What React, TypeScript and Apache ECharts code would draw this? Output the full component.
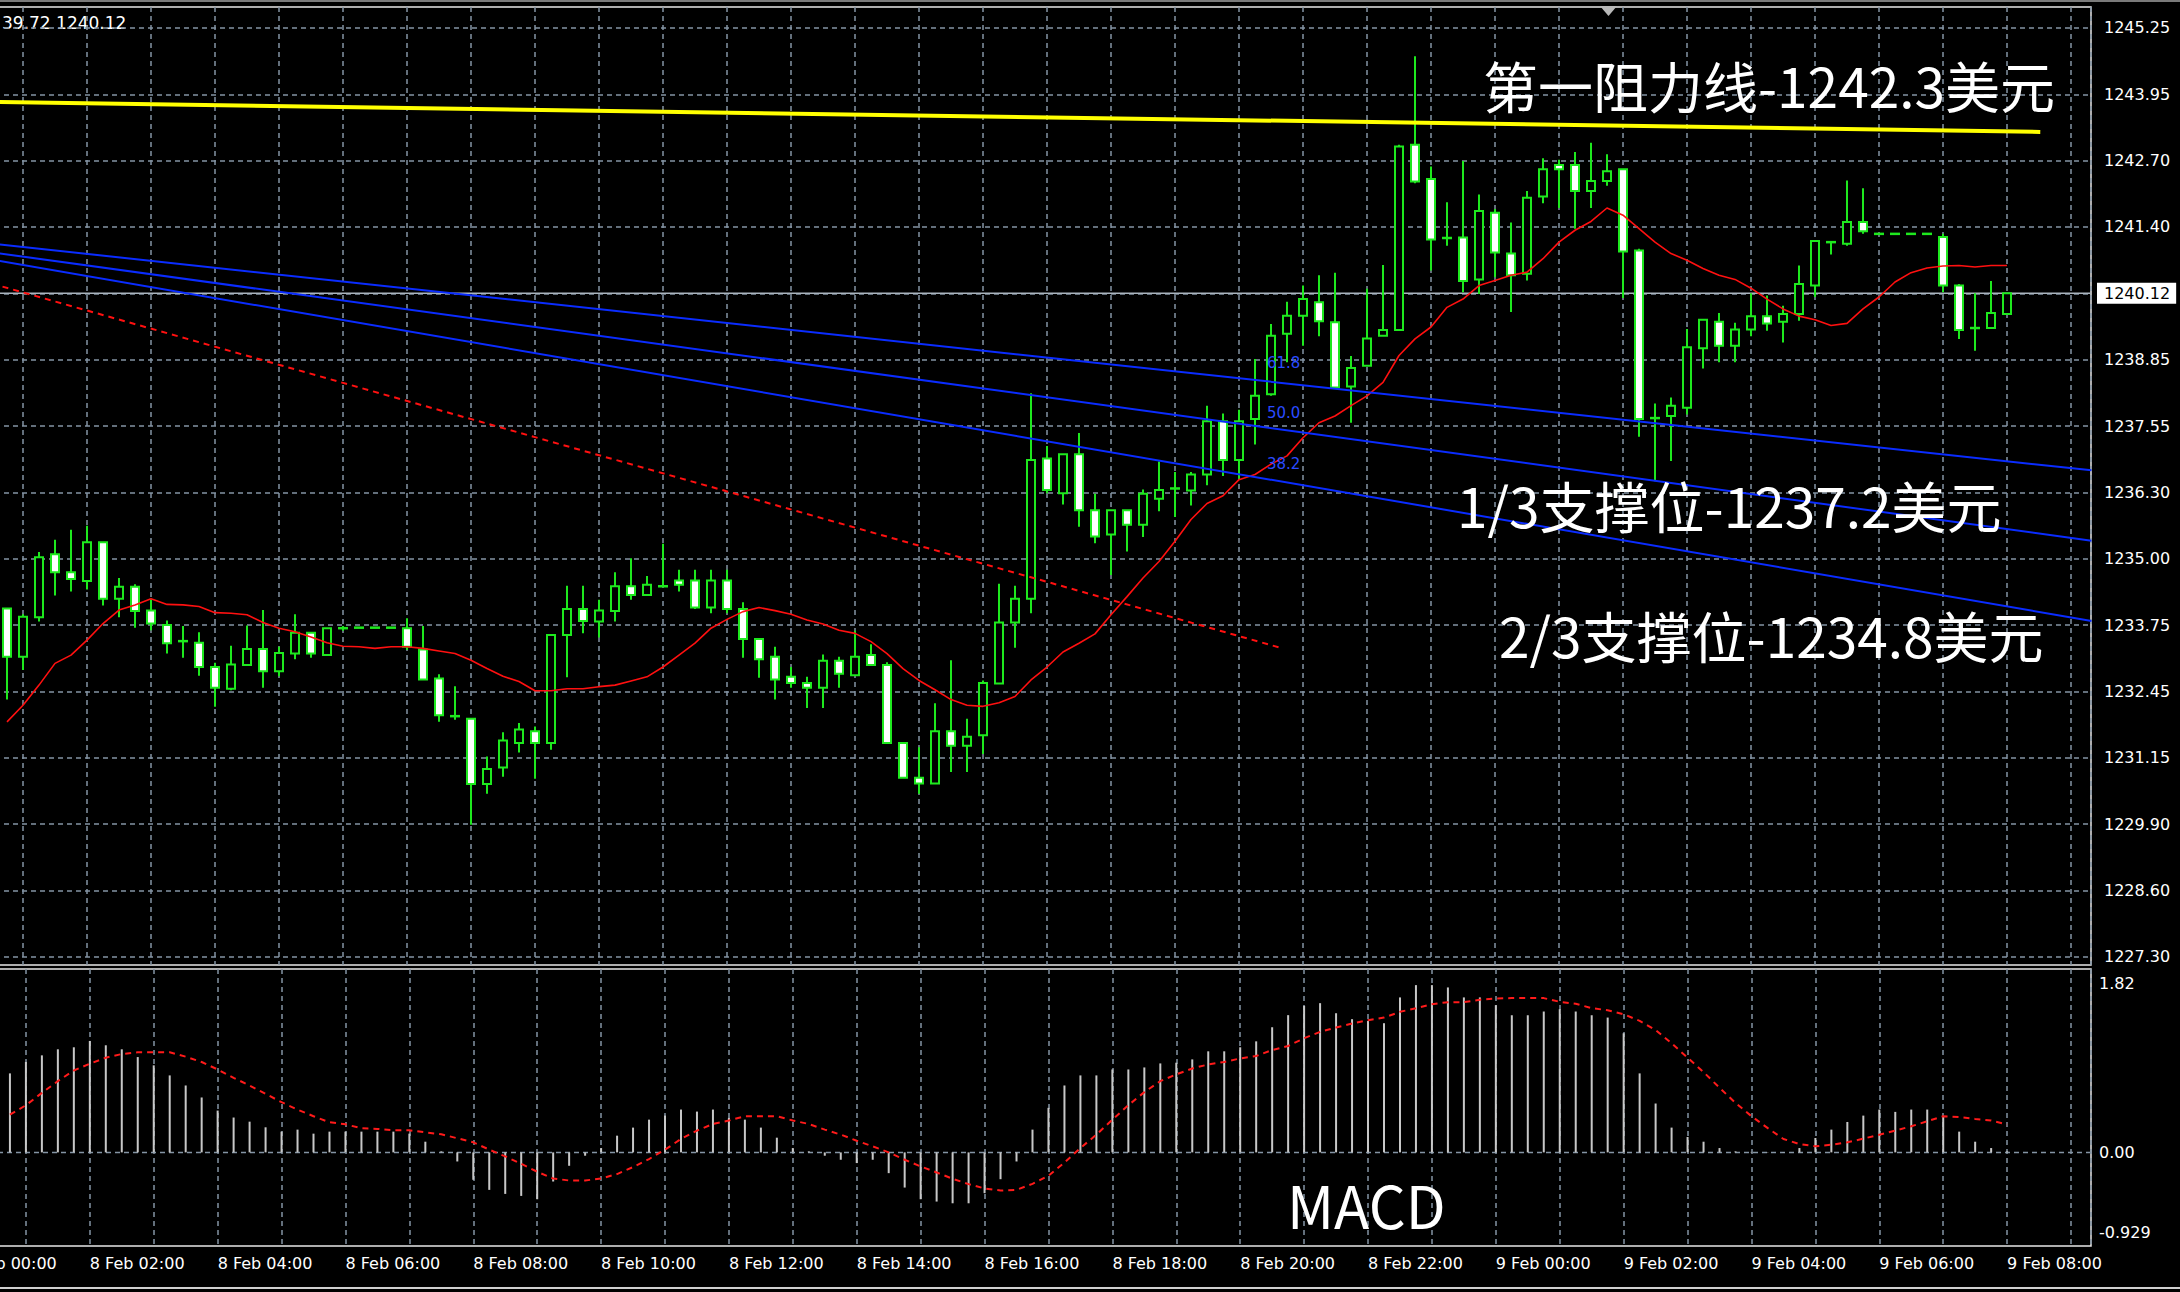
import React, { useEffect, useRef } from "react";
import * as echarts from "echarts";

// ---------- data ----------
const START_DAY = 8; // 8 Feb
const FIRST_BAR_MIN = 45; // first visible candle: 8 Feb 00:45
const BAR_MIN = 15; // M15

const OPEN = [1234.03,1233.10,1233.86,1235.08,1234.73,1234.56,1235.31,1234.22,1234.45,1233.99,1233.71,1233.40,1233.37,1232.90,1232.48,1232.94,1233.25,1232.82,1233.16,1233.56,1233.13,1233.65,1233.66,1233.66,1233.66,1233.65,1233.24,1232.68,1231.95,1231.90,1230.64,1230.96,1231.43,1231.66,1231.43,1233.52,1234.02,1233.78,1233.98,1234.46,1234.29,1234.46,1234.57,1234.57,1234.05,1234.57,1234.02,1233.44,1233.10,1232.71,1232.59,1232.50,1233.02,1232.74,1233.13,1232.94,1231.43,1230.76,1230.65,1231.66,1231.38,1231.58,1232.58,1233.76,1234.22,1236.93,1236.26,1237.01,1235.93,1235.46,1235.93,1235.65,1236.15,1236.35,1236.31,1236.62,1237.65,1236.90,1237.69,1238.17,1239.34,1239.69,1239.95,1239.56,1238.32,1238.72,1239.30,1239.41,1242.99,1242.33,1241.19,1241.20,1240.39,1241.68,1240.89,1240.50,1241.99,1242.60,1242.60,1242.10,1242.29,1242.52,1240.95,1237.71,1237.75,1237.91,1239.06,1239.57,1239.11,1239.42,1239.68,1239.57,1239.72,1240.27,1241.11,1241.08,1241.50,1241.27,1241.27,1241.27,1241.27,1241.21,1240.27,1239.45,1239.45,1239.72];
const HIGH = [1234.03,1233.92,1235.12,1235.36,1235.55,1235.63,1235.31,1234.62,1234.50,1234.21,1233.80,1233.69,1233.57,1232.98,1233.31,1233.70,1234.00,1233.29,1233.92,1233.56,1233.65,1233.69,1233.66,1233.66,1233.66,1233.84,1233.69,1232.76,1232.53,1231.90,1231.17,1231.64,1231.82,1231.75,1233.52,1234.47,1234.47,1234.20,1234.73,1235.00,1234.66,1235.28,1234.78,1234.78,1234.78,1234.78,1234.15,1233.44,1233.29,1232.90,1232.71,1233.14,1233.10,1233.60,1233.34,1232.99,1231.43,1231.35,1232.20,1233.03,1231.90,1232.64,1234.51,1234.47,1238.19,1237.17,1237.01,1237.42,1236.25,1235.93,1235.93,1236.33,1236.87,1236.67,1236.67,1237.95,1237.80,1237.87,1238.85,1239.53,1239.96,1240.27,1240.47,1240.52,1238.91,1240.21,1240.67,1242.99,1244.70,1242.57,1241.88,1242.68,1242.03,1241.75,1241.49,1242.10,1242.73,1242.70,1242.85,1243.03,1242.81,1242.52,1240.98,1237.99,1238.11,1239.43,1239.61,1239.74,1239.55,1240.12,1240.08,1239.88,1240.66,1241.13,1241.11,1242.30,1242.15,1241.27,1241.27,1241.27,1241.27,1241.27,1240.30,1240.12,1240.36,1240.12];
const LOW = [1232.27,1232.84,1233.78,1234.28,1234.36,1234.40,1234.09,1233.86,1233.66,1233.61,1233.16,1233.08,1232.73,1232.13,1232.45,1232.94,1232.50,1232.72,1233.05,1233.08,1233.13,1233.60,1233.66,1233.66,1233.66,1233.23,1232.66,1231.84,1231.88,1229.85,1230.45,1230.78,1231.25,1230.74,1231.30,1232.70,1233.55,1233.47,1233.78,1234.20,1234.29,1234.46,1234.36,1234.02,1233.94,1233.94,1233.08,1232.69,1232.27,1232.50,1232.11,1232.11,1232.50,1232.74,1232.94,1231.43,1230.76,1230.45,1230.65,1230.87,1230.87,1231.22,1232.58,1233.27,1233.94,1236.26,1236.04,1235.61,1235.29,1234.68,1235.13,1235.41,1235.91,1235.80,1236.02,1236.41,1236.59,1236.54,1237.20,1238.14,1238.79,1239.11,1239.29,1238.30,1237.62,1238.72,1239.30,1239.41,1242.25,1240.56,1241.04,1240.14,1240.11,1240.43,1239.76,1240.37,1241.86,1241.77,1241.37,1241.77,1242.20,1240.03,1237.35,1236.49,1236.88,1237.78,1238.67,1238.79,1238.79,1239.29,1239.40,1239.17,1239.59,1240.05,1240.87,1241.04,1241.27,1241.27,1241.27,1241.27,1241.27,1240.14,1239.24,1239.01,1239.45,1239.72];
const CLOSE = [1233.10,1233.87,1235.02,1234.73,1234.60,1235.31,1234.22,1234.45,1233.98,1233.74,1233.36,1233.40,1232.90,1232.50,1232.95,1233.25,1232.82,1233.17,1233.56,1233.16,1233.65,1233.65,1233.66,1233.66,1233.66,1233.29,1232.66,1231.97,1231.95,1230.64,1230.93,1231.48,1231.69,1231.43,1233.52,1234.02,1233.79,1233.99,1234.46,1234.29,1234.49,1234.46,1234.49,1234.05,1234.57,1234.02,1233.44,1233.05,1232.66,1232.59,1232.50,1233.02,1232.77,1233.10,1232.94,1231.43,1230.76,1230.65,1231.66,1231.38,1231.55,1232.59,1233.76,1234.22,1236.90,1236.32,1237.01,1235.93,1235.42,1235.93,1235.65,1236.25,1236.32,1236.35,1236.62,1237.65,1236.90,1237.65,1238.14,1239.30,1239.69,1240.01,1239.58,1238.30,1238.68,1239.25,1239.41,1242.96,1242.28,1241.16,1241.19,1240.36,1241.71,1240.91,1240.47,1241.97,1242.52,1242.52,1242.10,1242.29,1242.48,1240.93,1237.69,1237.71,1237.95,1239.08,1239.61,1239.11,1239.42,1239.68,1239.54,1239.72,1240.30,1241.13,1241.11,1241.50,1241.32,1241.27,1241.27,1241.27,1241.27,1240.27,1239.41,1239.45,1239.74,1240.12];
const MA = [1231.84,1232.16,1232.55,1232.97,1233.13,1233.42,1233.74,1234.00,1234.10,1234.22,1234.11,1234.10,1234.07,1233.95,1233.94,1233.91,1233.76,1233.65,1233.58,1233.48,1233.37,1233.30,1233.29,1233.26,1233.29,1233.29,1233.26,1233.21,1233.16,1233.03,1232.87,1232.72,1232.62,1232.44,1232.44,1232.48,1232.48,1232.52,1232.55,1232.63,1232.71,1232.90,1233.13,1233.36,1233.65,1233.82,1233.97,1234.05,1233.99,1233.92,1233.81,1233.73,1233.61,1233.55,1233.39,1233.16,1232.87,1232.64,1232.46,1232.27,1232.16,1232.14,1232.21,1232.33,1232.65,1232.90,1233.19,1233.36,1233.54,1233.91,1234.26,1234.62,1234.94,1235.33,1235.75,1236.06,1236.21,1236.52,1236.62,1236.82,1236.98,1237.33,1237.62,1237.75,1237.95,1238.14,1238.40,1238.92,1239.24,1239.47,1239.85,1240.01,1240.27,1240.37,1240.47,1240.53,1240.79,1241.11,1241.34,1241.51,1241.77,1241.63,1241.37,1241.11,1240.89,1240.76,1240.60,1240.47,1240.39,1240.22,1240.01,1239.82,1239.68,1239.61,1239.50,1239.54,1239.82,1240.05,1240.34,1240.52,1240.61,1240.65,1240.66,1240.63,1240.66,1240.66];
const MACD_HIST = [0.784,0.897,0.963,1.023,1.043,1.106,1.063,1.023,0.946,0.864,0.764,0.664,0.545,0.415,0.346,0.305,0.249,0.206,0.226,0.186,0.206,0.206,0.206,0.206,0.206,0.186,0.106,0.01,-0.09,-0.272,-0.372,-0.412,-0.432,-0.465,-0.289,-0.133,-0.033,0.043,0.166,0.246,0.325,0.365,0.425,0.405,0.425,0.342,0.325,0.246,0.146,0.043,0.01,-0.033,-0.073,-0.106,-0.073,-0.206,-0.349,-0.465,-0.488,-0.505,-0.505,-0.405,-0.266,-0.09,0.226,0.442,0.664,0.764,0.764,0.823,0.823,0.843,0.883,0.89,0.923,1.003,1.003,1.043,1.102,1.242,1.362,1.454,1.481,1.381,1.322,1.305,1.282,1.538,1.66,1.66,1.637,1.538,1.538,1.461,1.361,1.361,1.398,1.421,1.398,1.361,1.338,1.182,0.784,0.485,0.246,0.153,0.106,0.043,0.01,0.005,0.003,0.003,0.043,0.143,0.226,0.302,0.365,0.425,0.402,0.425,0.425,0.359,0.206,0.106,0.043,0.01];
const MACD_SIGNAL = [0.375,0.468,0.591,0.707,0.813,0.88,0.94,0.976,0.993,0.993,0.993,0.95,0.897,0.823,0.74,0.664,0.581,0.498,0.425,0.359,0.299,0.279,0.239,0.233,0.219,0.219,0.199,0.18,0.14,0.1,0.027,-0.04,-0.113,-0.192,-0.259,-0.279,-0.279,-0.259,-0.215,-0.146,-0.066,0.027,0.133,0.216,0.282,0.316,0.359,0.359,0.359,0.316,0.282,0.226,0.176,0.116,0.06,0.0,-0.073,-0.139,-0.199,-0.262,-0.315,-0.358,-0.378,-0.372,-0.312,-0.232,-0.1,0.043,0.176,0.325,0.468,0.598,0.707,0.774,0.833,0.873,0.897,0.933,0.956,1.016,1.056,1.133,1.196,1.239,1.279,1.312,1.338,1.395,1.431,1.471,1.491,1.491,1.515,1.528,1.531,1.531,1.531,1.494,1.475,1.431,1.411,1.371,1.305,1.215,1.082,0.94,0.797,0.641,0.491,0.359,0.243,0.133,0.083,0.06,0.076,0.1,0.136,0.176,0.216,0.259,0.309,0.359,0.352,0.332,0.316,0.276];

const PRICE_LABELS = ["1227.30","1228.60","1229.90","1231.15","1232.45","1233.75","1235.00","1236.30","1237.55","1238.85","1240.12","1241.40","1242.70","1243.95","1245.25"];
const PRICE_LOW = 1227.3;
const PRICE_HIGH = 1245.25;
const CURRENT_PRICE = 1240.12;
const CURRENT_INDEX = 10;
const MACD_MIN = -0.929;
const MACD_MAX = 1.82;
const HEADER = "39.72 1240.12";

// drawn objects: [hour since 8 Feb 00:00, price]
const RESISTANCE_LINE = [[0, 1243.83], [32.52, 1243.24]];
const FAN_618 = [[0, 1241.15], [33.32, 1236.7]];
const FAN_500 = [[0, 1241.0], [33.32, 1235.34]];
const FAN_382 = [[0, 1240.88], [33.32, 1233.79]];
const RED_TREND = [[0.68, 1240.25], [20.65, 1233.27]];
const FIB_LABELS = ["61.8", "50.0", "38.2"];
const NOTES = ["第一阻力线-1242.3美元", "1/3支撑位-1237.2美元", "2/3支撑位-1234.8美元"];
const PANEL_TITLE = "MACD";

// ---------- layout ----------
const W = 2180;
const H = 1292;
const SHIFT = 41; // the chart box starts 41px left of the page so 8 Feb 00:00 sits off-screen
const CW = W + SHIFT;
const PLOT_RIGHT = 2091;
const PX_PER_HOUR = 64;
const XMAX = (PLOT_RIGHT + SHIFT) / PX_PER_HOUR;
const MAIN_TOP = 7;
const MAIN_BOTTOM = 965;
const TICK_TOP = 27.9;
const TICK_BOTTOM = 956.8;
const PPU = (TICK_BOTTOM - TICK_TOP) / (PRICE_HIGH - PRICE_LOW);
const Y_MIN = PRICE_LOW - (MAIN_BOTTOM - TICK_BOTTOM) / PPU;
const Y_MAX = PRICE_HIGH + (TICK_TOP - MAIN_TOP) / PPU;
const MACD_TOP = 969;
const MACD_BOTTOM = 1246;

const GREEN = "#1ee81e";
const GRID = "#8494a4";
const BLUE = "#0a2cff";
const AX_FONT = "DejaVu Sans";
const CJK = '"Noto Sans CJK SC", "Noto Sans", sans-serif';

const barHour = (i: number) => (FIRST_BAR_MIN + i * BAR_MIN) / 60;
const px = (x: number) => x + SHIFT; // page x -> chart-box x

function timeLabel(v: number) {
  const h = Math.round(v);
  if (Math.abs(v - h) > 1e-6 || h % 2 !== 0) return "";
  const day = START_DAY + Math.floor(h / 24);
  const hh = h % 24;
  return `${day} Feb ${hh < 10 ? "0" + hh : hh}:00`;
}

export default function App() {
  const ref = useRef<HTMLDivElement>(null);
  useEffect(() => {
    document.body.style.margin = "0";
    document.body.style.background = "#000";
    document.body.style.overflow = "hidden";
    const chart = echarts.init(ref.current!, null, { renderer: "svg" });
    const candles = OPEN.map((o, i) => [barHour(i), o, CLOSE[i], LOW[i], HIGH[i]]);
    const maData = MA.map((v, i) => [barHour(i), v]);
    const histData = MACD_HIST.map((v, i) => [barHour(i), v]);
    const sigData = MACD_SIGNAL.map((v, i) => [barHour(i), v]);
    const dashed = { color: GRID, type: [5, 4] as any, width: 1.5 };

    const option: any = {
      animation: false,
      backgroundColor: "#000",
      grid: [
        { left: 0, right: W - PLOT_RIGHT, top: MAIN_TOP, bottom: H - MAIN_BOTTOM, show: true, borderColor: "#e8e8e8", borderWidth: 1.5, backgroundColor: "transparent" },
        { left: 0, right: W - PLOT_RIGHT, top: TICK_TOP, bottom: H - TICK_BOTTOM, show: false },
        { left: 0, right: W - PLOT_RIGHT, top: MACD_TOP, bottom: H - MACD_BOTTOM, show: true, borderColor: "#e8e8e8", borderWidth: 1.5, backgroundColor: "transparent" },
      ],
      xAxis: [
        { type: "value", gridIndex: 0, min: 0, max: XMAX, interval: 1, axisLine: { show: false }, axisTick: { show: false }, axisLabel: { show: false }, splitLine: { show: true, lineStyle: dashed } },
        { type: "value", gridIndex: 1, min: 0, max: 1, show: false },
        {
          type: "value", gridIndex: 2, min: 0, max: XMAX, interval: 1, axisLine: { show: false }, axisTick: { show: false },
          splitLine: { show: true, lineStyle: dashed },
          axisLabel: { show: true, formatter: timeLabel, align: "left", color: "#fff", fontFamily: AX_FONT, fontSize: 16, margin: 9, showMinLabel: true, showMaxLabel: true },
        },
      ],
      yAxis: [
        { type: "value", gridIndex: 0, min: Y_MIN, max: Y_MAX, show: false, scale: true },
        {
          type: "value", gridIndex: 1, position: "right", min: 0, max: 14, interval: 1,
          axisLine: { show: false },
          axisTick: { show: true, length: 5, lineStyle: { color: "#fff", width: 1.5 } },
          splitLine: { show: true, lineStyle: dashed },
          axisLabel: {
            show: true, margin: 6, color: "#fff", fontFamily: AX_FONT, fontSize: 16,
            formatter: (v: number) => {
              const k = Math.round(v);
              if (k === CURRENT_INDEX) return `{cur|${CURRENT_PRICE.toFixed(2)}}`;
              return `{n|${PRICE_LABELS[k] ?? ""}}`;
            },
            rich: {
              n: { padding: [0, 0, 0, 7], color: "#fff", fontFamily: AX_FONT, fontSize: 16 },
              cur: { padding: [3, 6, 2, 7], backgroundColor: "#fff", color: "#000", fontFamily: AX_FONT, fontSize: 16 },
            },
          },
        },
        {
          type: "value", gridIndex: 2, position: "right", min: MACD_MIN, max: MACD_MAX, interval: -MACD_MIN,
          axisLine: { show: false }, axisTick: { show: false }, splitLine: { show: false },
          axisLabel: {
            show: true, margin: 8, color: "#fff", fontFamily: AX_FONT, fontSize: 16, showMinLabel: true, showMaxLabel: true,
            formatter: (v: number) => {
              if (Math.abs(v - MACD_MAX) < 1e-6) return `{top|${MACD_MAX.toFixed(2)}}`;
              if (Math.abs(v) < 1e-6) return "0.00";
              if (Math.abs(v - MACD_MIN) < 1e-6) return `{bot|${MACD_MIN.toFixed(3)}}`;
              return "";
            },
            rich: {
              top: { padding: [28, 0, 0, 0], color: "#fff", fontFamily: AX_FONT, fontSize: 16 },
              bot: { padding: [0, 0, 28, 0], color: "#fff", fontFamily: AX_FONT, fontSize: 16 },
            },
          },
        },
      ],
      series: [
        {
          type: "line", xAxisIndex: 0, yAxisIndex: 0, z: 1, symbol: "none", silent: true,
          data: [[0, CURRENT_PRICE], [XMAX, CURRENT_PRICE]],
          lineStyle: { color: "#aab4be", width: 1.5 },
        },
        {
          type: "custom", xAxisIndex: 0, yAxisIndex: 0, z: 2, clip: true,
          encode: { x: 0, y: [1, 2, 3, 4] },
          data: candles,
          renderItem: (params: any, api: any) => {
            const x = api.value(0);
            const o = api.value(1), c = api.value(2), l = api.value(3), h = api.value(4);
            const pO = api.coord([x, o]);
            const pC = api.coord([x, c]);
            const pL = api.coord([x, l]);
            const pH = api.coord([x, h]);
            const half = Math.round(api.size([BAR_MIN / 60, 0])[0] * 0.25);
            const cx = Math.round(pO[0]);
            const top = Math.min(pO[1], pC[1]);
            const bot = Math.max(pO[1], pC[1]);
            const children: any[] = [
              { type: "line", shape: { x1: cx, y1: pH[1], x2: cx, y2: pL[1] }, style: { stroke: GREEN, lineWidth: 2 } },
            ];
            if (bot - top < 1.5) {
              children.push({ type: "line", shape: { x1: cx - half - 1, y1: top, x2: cx + half + 1, y2: top }, style: { stroke: GREEN, lineWidth: 2.5 } });
            } else {
              children.push({ type: "rect", shape: { x: cx - half, y: top, width: half * 2, height: bot - top }, style: { fill: c < o ? "#ffffff" : "#000000", stroke: GREEN, lineWidth: 2 } });
            }
            return { type: "group", children };
          },
        },
        {
          type: "line", xAxisIndex: 0, yAxisIndex: 0, z: 3, symbol: "none", silent: true,
          data: maData, lineStyle: { color: "#ff1010", width: 1.6 },
        },
        {
          type: "line", xAxisIndex: 0, yAxisIndex: 0, z: 4, symbol: "none", silent: true,
          data: RED_TREND, lineStyle: { color: "#ff1010", width: 2, type: [6, 5] },
        },
        { type: "line", xAxisIndex: 0, yAxisIndex: 0, z: 4, symbol: "none", silent: true, data: FAN_618, lineStyle: { color: BLUE, width: 2 } },
        { type: "line", xAxisIndex: 0, yAxisIndex: 0, z: 4, symbol: "none", silent: true, data: FAN_500, lineStyle: { color: BLUE, width: 2 } },
        { type: "line", xAxisIndex: 0, yAxisIndex: 0, z: 4, symbol: "none", silent: true, data: FAN_382, lineStyle: { color: BLUE, width: 2 } },
        {
          type: "line", xAxisIndex: 0, yAxisIndex: 0, z: 4, symbol: "none", silent: true,
          data: RESISTANCE_LINE, lineStyle: { color: "#ffff00", width: 4 },
        },
        {
          type: "line", xAxisIndex: 2, yAxisIndex: 2, z: 1, symbol: "none", silent: true,
          data: [[0, 0], [XMAX, 0]], lineStyle: dashed,
        },
        {
          type: "bar", xAxisIndex: 2, yAxisIndex: 2, z: 2, barWidth: 2, silent: true,
          data: histData, itemStyle: { color: "#c8c8c8" },
        },
        {
          type: "line", xAxisIndex: 2, yAxisIndex: 2, z: 3, symbol: "none", silent: true,
          data: sigData, lineStyle: { color: "#ff1a1a", width: 2, type: [6, 5] },
        },
      ],
      graphic: [
        { type: "rect", shape: { x: 0, y: 0, width: CW, height: 2 }, style: { fill: "#7a7a7a" }, silent: true },
        { type: "rect", shape: { x: 0, y: 1287, width: CW, height: 2 }, style: { fill: "#cfcfcf" }, silent: true },
        { type: "polygon", shape: { points: [[px(1600), 6], [px(1617), 6], [px(1608.5), 16]] }, style: { fill: "#b8b8b8" }, silent: true },
        { type: "text", x: px(2), y: 23, style: { text: HEADER, fill: "#fff", fontFamily: AX_FONT, fontSize: 17, verticalAlign: "middle" }, silent: true },
        { type: "text", x: px(1267), y: 363, z: 20, style: { text: FIB_LABELS[0], fill: "#2a4bff", fontFamily: AX_FONT, fontSize: 15, verticalAlign: "middle" }, silent: true },
        { type: "text", x: px(1267), y: 413, z: 20, style: { text: FIB_LABELS[1], fill: "#2a4bff", fontFamily: AX_FONT, fontSize: 15, verticalAlign: "middle" }, silent: true },
        { type: "text", x: px(1267), y: 464, z: 20, style: { text: FIB_LABELS[2], fill: "#2a4bff", fontFamily: AX_FONT, fontSize: 15, verticalAlign: "middle" }, silent: true },
        { type: "text", x: px(1483), y: 84, z: 30, style: { text: NOTES[0], fill: "#fff", fontFamily: CJK, fontSize: 55, verticalAlign: "middle" }, silent: true },
        { type: "text", x: px(1457), y: 504, z: 30, style: { text: NOTES[1], fill: "#fff", fontFamily: CJK, fontSize: 55, verticalAlign: "middle" }, silent: true },
        { type: "text", x: px(1499), y: 634, z: 30, style: { text: NOTES[2], fill: "#fff", fontFamily: CJK, fontSize: 55, verticalAlign: "middle" }, silent: true },
        { type: "text", x: px(1287), y: 1204, z: 30, style: { text: PANEL_TITLE, fill: "#fff", fontFamily: CJK, fontSize: 58, verticalAlign: "middle" }, silent: true },
      ],
    };
    chart.setOption(option);
    return () => chart.dispose();
  }, []);
  return <div ref={ref} style={{ position: "absolute", left: -SHIFT, top: 0, width: CW, height: H, background: "#000" }} />;
}
